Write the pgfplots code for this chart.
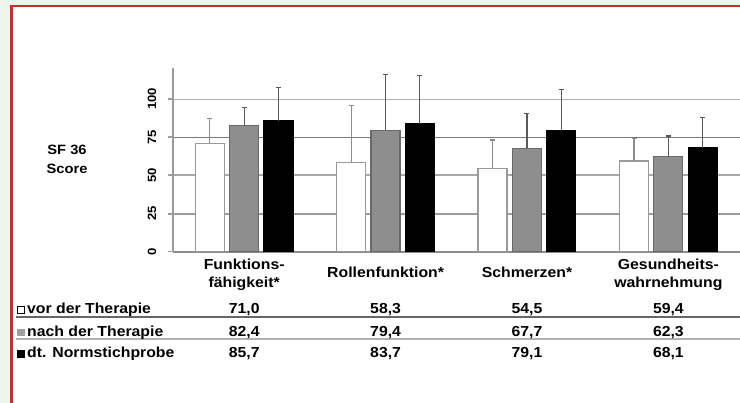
\documentclass[border=0pt]{standalone}
\usepackage{fontspec}
\setmainfont{Liberation Sans}[FakeStretch=1.09]
\usepackage{pgfplots}
\pgfplotsset{compat=1.18}
\definecolor{bgreen}{HTML}{EEF5EA}
\definecolor{fred}{HTML}{D9262B}
\definecolor{bargray}{HTML}{8E8E8E}
\definecolor{bargrayline}{HTML}{6A6A6A}
\definecolor{whiteline}{HTML}{9A9A9A}
\definecolor{gridA}{HTML}{9C9C9C}
\definecolor{gridB}{HTML}{A8A8A8}
\definecolor{gridC}{HTML}{7A7A7A}
\definecolor{gridD}{HTML}{B4B4B4}
\newcommand\lf{\fontsize{14.5}{17}\selectfont\bfseries}
\begin{document}
\begin{tikzpicture}[x=1pt,y=1pt]
\fill[bgreen] (0,0) rectangle (740,403);
\useasboundingbox (0,0) rectangle (740,403);
\fill[white] (11.5,0) rectangle (740,397);
\draw[fred, line width=2.5pt] (11.5,-2) -- (11.5,397) -- (742,397);
% grid lines (pixel rows 214, 175, 137.3, 99.3)
\draw[gridA, line width=1.5pt] (168,189) -- (740,189);
\draw[gridB, line width=1.5pt] (168,228) -- (740,228);
\draw[gridC, line width=1.5pt] (168,265.7) -- (740,265.7);
\draw[gridD, line width=1.5pt] (168,303.7) -- (740,303.7);
\begin{axis}[
  at={(173pt,151.3pt)}, anchor=south west,
  scale only axis, width=567pt, height=183.2pt,
  xmin=-0.503, xmax=3.507, ymin=0, ymax=120,
  axis x line*=bottom, axis y line*=left,
  separate axis lines,
  x axis line style={color=black!45, line width=2.2pt},
  y axis line style={color=whiteline, line width=1.5pt},
  xtick={0,1,2,3}, xticklabels={}, xtick style={draw=none},
  ytick={0,25,50,75,100},
  tick align=outside, major tick length=5pt,
  ytick style={color=gridA, line width=1.5pt},
  yticklabel style={rotate=90, anchor=center, yshift=16pt, font=\fontsize{12}{12}\selectfont\bfseries},
  /pgf/number format/assume math mode=true,
  ybar, bar width=29pt,
  clip=false,
]
\addplot[ybar, bar shift=-34.3pt, fill=white, draw=whiteline, line width=1.4pt,
  error bars/.cd, y dir=plus, y explicit,
  error bar style={color=black!45, line width=1.2pt},
  error mark options={rotate=90, color=black!45, line width=1.2pt, mark size=2.5pt}]
coordinates {(0,71.0) +- (0,16.4) (1,58.3) +- (0,37.3) (2,54.5) +- (0,18.6) (3,59.4) +- (0,14.9)};
\addplot[ybar, bar shift=0pt, fill=bargray, draw=bargrayline, line width=1.2pt,
  error bars/.cd, y dir=plus, y explicit,
  error bar style={color=black!65, line width=1.2pt},
  error mark options={rotate=90, color=black!65, line width=1.2pt, mark size=2.5pt}]
coordinates {(0,82.4) +- (0,11.9) (1,79.4) +- (0,36.5) (2,67.7) +- (0,22.9) (3,62.3) +- (0,13.5)};
\addplot[ybar, bar shift=34.3pt, fill=black, draw=black, line width=1.2pt,
  error bars/.cd, y dir=plus, y explicit,
  error bar style={color=black!65, line width=1.2pt},
  error mark options={rotate=90, color=black!65, line width=1.2pt, mark size=2.5pt}]
coordinates {(0,85.7) +- (0,22.0) (1,83.7) +- (0,31.6) (2,79.1) +- (0,27.2) (3,68.1) +- (0,19.9)};
\end{axis}
% y label
\node[anchor=base, inner sep=0pt, font=\fontsize{13.5}{16}\selectfont\bfseries] at (67,248) {SF 36};
\node[anchor=base, inner sep=0pt, font=\fontsize{13.5}{16}\selectfont\bfseries] at (67,229.7) {Score};
% category labels
\begin{scope}[every node/.style={anchor=base, inner sep=0pt, font=\lf}]
\node at (244.2,133.5) {Funktions-};
\node at (244.2,115) {fähigkeit*};
\node at (385.6,125) {Rollenfunktion*};
\node at (527.0,125) {Schmerzen*};
\node at (668.4,133.5) {Gesundheits-};
\node at (668.4,115) {wahrnehmung};
% table lines
\draw[black!60, line width=2pt] (16,85.5) -- (740,85.5);
\draw[black!30, line width=2pt] (16,63.5) -- (740,63.5);
% legend squares
\draw[black, line width=0.8pt, fill=white] (17.5,89.5) rectangle +(7,7);
\fill[bargray!85] (17.1,66.6) rectangle +(7.8,7.8);
\fill[black] (17.1,45.1) rectangle +(7.8,7.8);
\node[anchor=base west] at (27,89) {vor der Therapie};
\node[anchor=base west] at (27,66.5) {nach der Therapie};
\node[anchor=base west] at (27,45) {dt. Normstichprobe};
% values
\node at (244.2,89) {71,0}; \node at (385.6,89) {58,3}; \node at (527.0,89) {54,5}; \node at (668.4,89) {59,4};
\node at (244.2,66.5) {82,4}; \node at (385.6,66.5) {79,4}; \node at (527.0,66.5) {67,7}; \node at (668.4,66.5) {62,3};
\node at (244.2,45) {85,7}; \node at (385.6,45) {83,7}; \node at (527.0,45) {79,1}; \node at (668.4,45) {68,1};
\end{scope}
\end{tikzpicture}
\end{document}
